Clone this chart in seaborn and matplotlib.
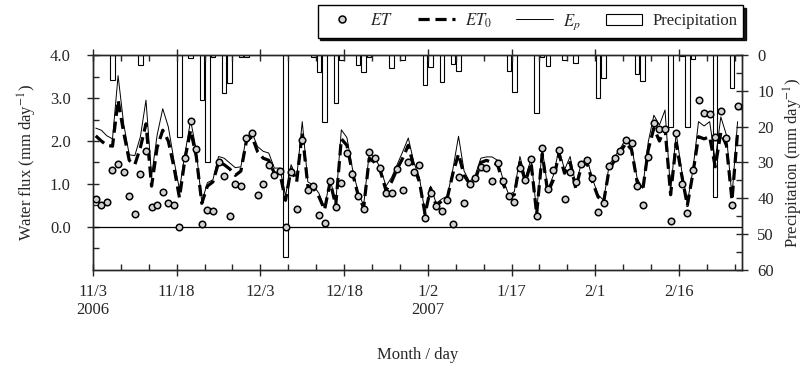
import numpy as np
import pandas as pd
import matplotlib
matplotlib.use("Agg")
import matplotlib.pyplot as plt
import seaborn as sns
from matplotlib.lines import Line2D
from matplotlib.patches import Patch
from matplotlib.ticker import MultipleLocator, FormatStrFormatter

# ---------------- data (daily, 3 Nov 2006 - 26 Feb 2007) ----------------
tick_days = [0, 15, 30, 45, 60, 75, 90, 105]
tick_labels = ["11/3\n2006", "11/18", "12/3", "12/18", "1/2\n2007", "1/17", "2/1", "2/16"]

et = [0.66, 0.51, 0.58, 1.33, 1.46, 1.29, 0.72, 0.31, 1.23, 1.77,
      0.47, 0.50, 0.82, 0.56, 0.52, 0.00, 1.60, 2.46, 1.82, 0.08,
      0.39, 0.38, 1.50, 1.19, 0.26, 1.01, 0.96, 2.07, 2.18, 0.75,
      1.00, 1.45, 1.20, 1.30, 0.00, 1.29, 0.43, 2.02, 0.86, 0.95,
      0.29, 0.10, 1.06, 0.46, 1.02, 1.72, 1.24, 0.72, 0.42, 1.75,
      1.60, 1.37, 0.78, 0.78, 1.36, 0.85, 1.52, 1.28, 1.45, 0.21,
      0.79, 0.48, 0.38, 0.63, 0.06, 1.16, 0.55, 1.00, 1.14, 1.39,
      1.38, 1.07, 1.48, 1.07, 0.71, 0.58, 1.38, 1.10, 1.58, 0.25,
      1.83, 0.88, 1.33, 1.80, 0.65, 1.29, 1.05, 1.46, 1.56, 1.15,
      0.35, 0.55, 1.41, 1.60, 1.77, 2.02, 1.95, 0.95, 0.52, 1.62,
      2.43, 2.27, 2.29, 0.14, 2.18, 1.00, 0.33, 1.33, 2.95, 2.64,
      2.62, 2.10, 2.69, 2.07, 0.51, 2.82]

et0 = [2.12, 2.00, 1.90, 1.88, 2.95, 2.20, 1.55, 1.45, 1.85, 2.40,
       0.95, 1.85, 2.25, 2.00, 1.40, 0.68, 1.60, 2.25, 1.65, 0.55,
       0.95, 1.05, 1.50, 1.45, 1.35, 1.20, 1.30, 2.00, 2.10, 1.75,
       1.60, 1.55, 1.25, 1.25, 0.62, 1.35, 1.05, 2.20, 0.95, 0.90,
       0.70, 0.40, 1.05, 0.50, 2.05, 1.90, 1.25, 0.75, 0.45, 1.60,
       1.50, 1.30, 0.85, 1.05, 1.35, 1.60, 1.90, 1.40, 1.05, 0.30,
       0.90, 0.50, 0.60, 0.68, 1.25, 1.70, 1.20, 1.00, 1.10, 1.50,
       1.55, 1.50, 1.45, 1.00, 0.70, 0.75, 1.50, 1.05, 1.50, 0.30,
       1.70, 0.80, 1.10, 1.70, 1.25, 1.50, 0.90, 1.40, 1.50, 1.05,
       0.70, 0.58, 1.35, 1.55, 1.75, 1.95, 1.80, 1.05, 0.85, 1.80,
       2.30, 2.00, 2.30, 0.75, 1.95, 1.20, 0.50, 1.25, 2.10, 2.05,
       2.10, 1.40, 2.20, 1.90, 0.62, 2.20]

ep = [2.30, 2.25, 2.12, 2.05, 3.52, 2.40, 1.68, 1.66, 2.10, 2.95,
      1.18, 2.14, 2.75, 2.33, 1.56, 0.87, 1.72, 2.48, 1.79, 0.57,
      1.03, 1.10, 1.64, 1.60, 1.49, 1.38, 1.40, 2.10, 2.19, 1.87,
      1.76, 1.72, 1.37, 1.37, 0.72, 1.45, 1.14, 2.45, 1.05, 0.97,
      0.78, 0.45, 1.12, 0.55, 2.26, 2.08, 1.35, 0.82, 0.50, 1.72,
      1.60, 1.38, 0.95, 1.15, 1.45, 1.75, 2.07, 1.50, 1.15, 0.32,
      0.95, 0.55, 0.65, 0.72, 1.35, 2.11, 1.30, 1.05, 1.20, 1.60,
      1.63, 1.63, 1.55, 1.10, 0.75, 0.82, 1.64, 1.15, 1.58, 0.35,
      1.83, 0.88, 1.20, 1.82, 1.33, 1.64, 0.98, 1.48, 1.60, 1.12,
      0.75, 0.62, 1.45, 1.64, 1.83, 2.06, 1.90, 1.13, 0.90, 1.98,
      2.60, 2.37, 2.72, 0.83, 2.18, 1.30, 0.56, 1.33, 2.45, 2.35,
      2.45, 1.55, 2.56, 2.14, 0.70, 2.45]

precip_day = [3, 8, 15, 17, 19, 20, 21, 23, 24, 26, 27, 34, 39, 40, 41, 43, 44,
              47, 48, 49, 53, 55, 59, 60, 62, 64, 65, 74, 75, 79, 80, 81, 84,
              86, 90, 91, 97, 98, 103, 105, 106, 107, 111, 114]
precip_mm = [7.0, 2.9, 23.0, 0.7, 12.6, 30.0, 0.6, 10.6, 7.8, 0.6, 0.6, 56.5,
             0.5, 4.8, 18.6, 13.5, 1.5, 2.8, 4.7, 0.5, 3.6, 1.5, 8.4, 3.3,
             7.5, 2.4, 4.6, 4.4, 10.2, 16.2, 0.5, 3.2, 1.4, 2.1, 12.1, 6.3,
             5.2, 7.2, 20.1, 0.4, 20.1, 1.0, 39.5, 9.1]

# ---------------- style ----------------
sns.set_style("ticks")
plt.rcParams["font.family"] = ["Liberation Serif", "DejaVu Serif"]
plt.rcParams["mathtext.fontset"] = "stix"
plt.rcParams["axes.linewidth"] = 1.0

day = np.arange(len(et)) + 0.5          # daily values centred at noon
flux = pd.DataFrame({"day": day, "ET": et, "ET0": et0, "Ep": ep})
rain = pd.DataFrame({"day": np.array(precip_day) + 0.5, "mm": precip_mm})

fig = plt.figure(figsize=(8.07, 3.65), dpi=100)
ax = fig.add_axes([0.1152, 0.2603, 0.8043, 0.589])
ax2 = ax.twinx()
ax.set_zorder(ax2.get_zorder() + 1)
ax.patch.set_visible(False)

# precipitation bars (inverted right axis)
sns.barplot(data=rain, x="day", y="mm", native_scale=True, ax=ax2,
            color="white", saturation=1, edgecolor="black", linewidth=0.8,
            errorbar=None, width=0.8)
ax2.set_ylim(60, 0)

# fluxes
sns.lineplot(data=flux, x="day", y="Ep", ax=ax, color="black", lw=0.7)
sns.lineplot(data=flux, x="day", y="ET0", ax=ax, color="black", lw=2.3, ls="--")
ax.lines[-1].set_dashes([3.5, 1.8])
sns.scatterplot(data=flux, x="day", y="ET", ax=ax, marker="o", s=22,
                color="0.82", edgecolor="black", linewidth=1.1, zorder=4)
ax.axhline(0, color="black", lw=0.9)

# axes
ax.set_xlim(0, 116.3)
ax.set_xticks(tick_days)
ax.set_xticklabels(tick_labels)
ax.xaxis.set_minor_locator(MultipleLocator(5))
ax.set_ylim(-1, 4)
ax.set_yticks([0, 1, 2, 3, 4])
ax.yaxis.set_major_formatter(FormatStrFormatter("%.1f"))
ax.set_yticks(np.arange(-0.5, 4.0, 0.5), minor=True)
ax2.set_yticks(np.arange(0, 61, 10))
ax2.yaxis.set_minor_locator(MultipleLocator(5))

ax.tick_params(axis="both", which="major", direction="inout", length=8,
               width=1, labelsize=12, top=True)
ax.tick_params(axis="both", which="minor", direction="in", length=4,
               width=1, top=True)
ax.tick_params(axis="x", which="major", pad=6)
ax.tick_params(axis="y", which="major", pad=12)
ax2.tick_params(axis="y", which="major", direction="inout", length=8,
                width=1, labelsize=12, pad=7)
ax2.tick_params(axis="y", which="minor", direction="in", length=4, width=1)

ax.set_xlabel("Month / day", fontsize=12, labelpad=21)
ax.set_ylabel("Water flux (mm day$^{-1}$)", fontsize=12, labelpad=8)
ax2.set_ylabel("Precipitation (mm day$^{-1}$)", fontsize=12, labelpad=6)
ax2.set_xlabel("")

handles = [
    Line2D([], [], ls="none", marker="o", ms=5, mfc="0.82", mec="black", mew=1.1),
    Line2D([], [], color="black", lw=2.3, dashes=[3.5, 1.8]),
    Line2D([], [], color="black", lw=0.7),
    Patch(facecolor="white", edgecolor="black", linewidth=0.8),
]
labels = ["$ET$", "$ET_0$", "$E_p$", "Precipitation"]
fig.legend(handles, labels, loc="upper right", bbox_to_anchor=(0.921, 0.985),
           borderaxespad=0, ncol=4, frameon=True, fancybox=False,
           edgecolor="black", shadow={"color": "black", "alpha": 0.9},
           fontsize=12, handlelength=2.2, columnspacing=1.5, borderpad=0.35,
           handletextpad=0.6, framealpha=1)

fig.savefig("out.png", dpi=100)
